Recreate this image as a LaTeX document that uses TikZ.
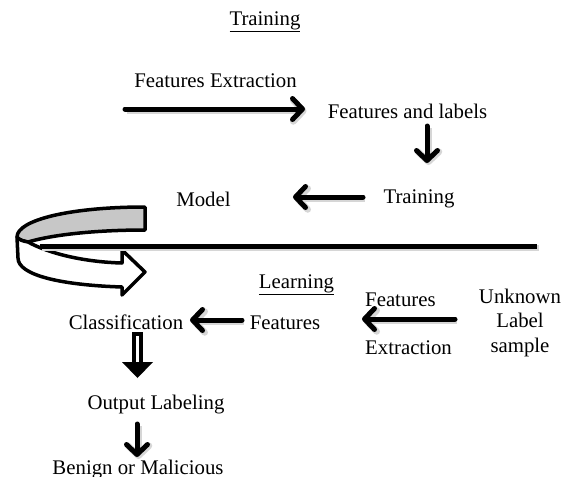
\documentclass[tikz,border=0pt]{standalone}
\usepackage{fontspec}
\setmainfont{Liberation Serif}
\usetikzlibrary{arrows.meta}
\begin{document}
\begin{tikzpicture}[x=1pt,y=-1pt,
  lbl/.style={anchor=base, inner sep=0pt, font=\fontsize{20.8}{25}\selectfont},
  lblw/.style={lbl, anchor=base west},
  softshadow/.style={preaction={draw=black!16, line width=6.5pt,
      transform canvas={shift={(1.5pt,-2pt)}}}},
  flow/.style={line width=5pt, line cap=round, line join=round,
    -{Straight Barb[length=10pt,width=21pt,round]}, softshadow},
  ribbon/.style={line width=3.5pt, line join=round},
  divider/.style={line width=5pt, softshadow},
]
\useasboundingbox (0,0) rectangle (571,477);

% ---- training half ----
\node[lbl] (ttitle) at (265,25) {\underline{Training}};
\node[lbl] (fext)   at (215.5,87) {Features Extraction};
\node[lbl] (flab)   at (407.5,118) {Features and labels};
\node[lbl] (train)  at (419,203) {Training};
\node[lbl] (model)  at (203.5,206) {Model};

\coordinate (fextA) at (125,109);
\coordinate (fextB) at (305,109);
\coordinate (flabA) at (427,126);
\coordinate (flabB) at (427,163);
\coordinate (trainA) at (363,197);
\coordinate (trainB) at (293,197);

\draw[flow] (fextA) -- (fextB);
\draw[flow] (flabA) -- (flabB);
\draw[flow] (trainA) -- (trainB);

% ---- curled ribbon arrow passing the model on ----
\filldraw[ribbon, fill=black!22]
  (145,207) .. controls (70,207) and (17,220) .. (17,237)
  .. controls (19,240) and (23,241) .. (28,242)
  .. controls (55,234) and (100,230) .. (145,230) -- cycle;
\filldraw[ribbon, fill=white]
  (28,242) .. controls (50,254) and (85,262) .. (122,263)
  -- (122,250) -- (145,272) -- (122,295) -- (122,287)
  .. controls (60,285) and (18,275) .. (18,258)
  -- (17,237) .. controls (19,240) and (23,241) .. (28,242) -- cycle;

% ---- divider between the two phases ----
\coordinate (divL) at (40,246);
\coordinate (divR) at (537,246);
\draw[divider] (divL) -- (divR);

% ---- learning half ----
\node[lbl] (ltitle) at (296.5,288) {\underline{Learning}};
\node[lbl] (cls)    at (126,329) {Classification};
\node[lbl] (feat)   at (285,329) {Features};
\node[lblw] (fe1)   at (365,306) {Features};
\node[lblw] (fe2)   at (365,354) {Extraction};
\node[lbl] (unk1)   at (520,303) {Unknown};
\node[lbl] (unk2)   at (520,327.5) {Label};
\node[lbl] (unk3)   at (520,352) {sample};
\node[lbl] (outl)   at (156,409) {Output Labeling};
\node[lbl] (bom)    at (138,474.5) {Benign or Malicious};

\coordinate (unkA) at (455,319);
\coordinate (unkB) at (362,319);
\coordinate (featA) at (242,320);
\coordinate (featB) at (190,320);
\coordinate (outA) at (137,424);
\coordinate (outB) at (137,457);

\draw[flow] (unkA) -- (unkB);
\draw[flow] (featA) -- (featB);
\draw[flow] (outA) -- (outB);

% hollow block arrow from classification to output labeling
\draw[line width=4.5pt, fill=white] (133.9,334) rectangle (141.1,364);
\fill (122,362) -- (153,362) -- (137.5,378) -- cycle;

\end{tikzpicture}
\end{document}
